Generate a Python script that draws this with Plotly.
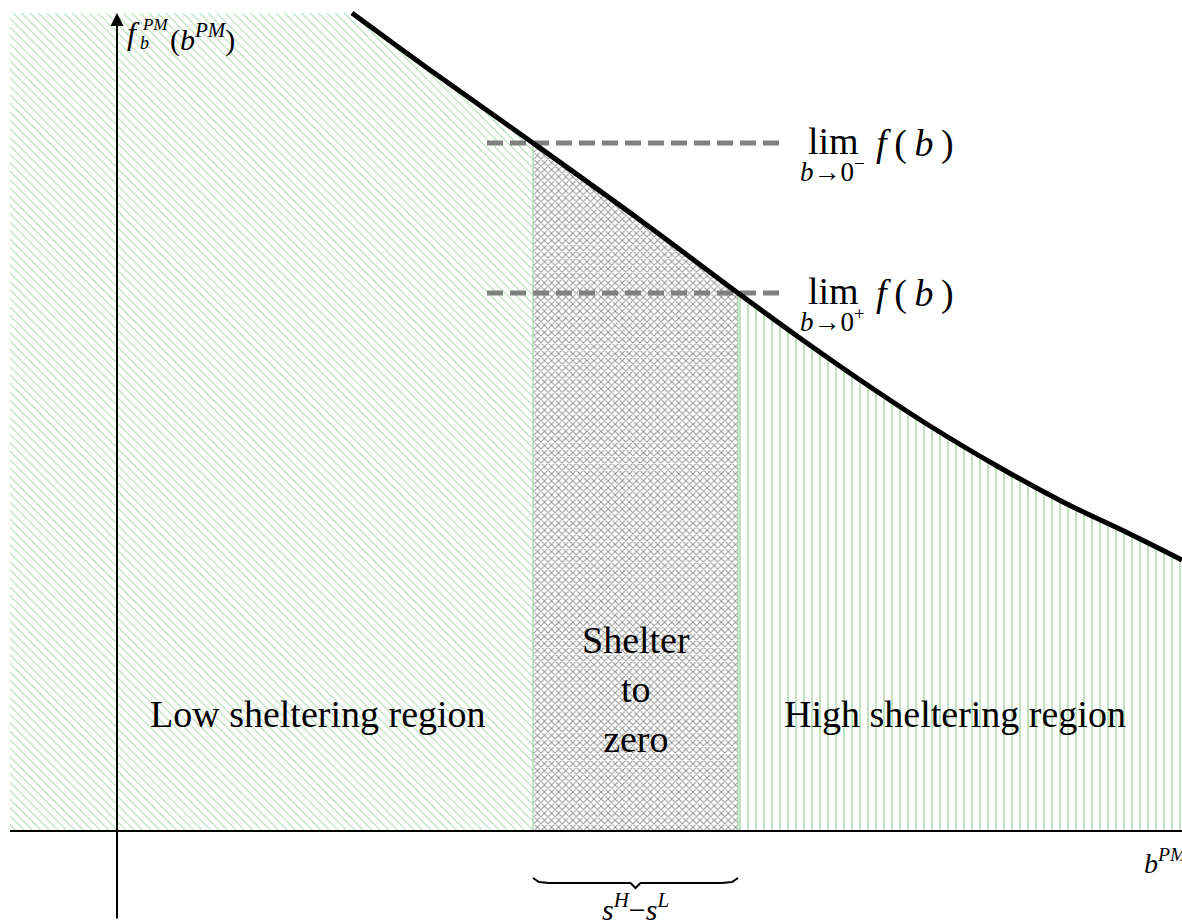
import plotly.graph_objects as go

# ---- data (chart units: origin at the axes crossing) ----
curve_x = [235, 313, 416, 523, 621, 680, 746, 813, 880, 946, 1013, 1065]
curve_y = [818, 761, 688, 611, 538, 495, 449, 405, 365, 329, 297, 271]
s_L = 416          # start of "shelter to zero" band
s_H = 621          # end of band
lim_minus = 688    # lim b->0- f(b)
lim_plus = 538     # lim b->0+ f(b)
region_labels = ["Low sheltering region", "Shelter<br>to<br>zero", "High sheltering region"]

# ---- layout constants ----
X_MIN, X_MAX = -117, 1065
Y_MIN, Y_MAX = -89, 831
LEFT_EDGE = -107
TOP_EDGE = 818
DASH_X0, DASH_X1 = 370, 668
SERIF = "Liberation Serif"
GREEN = "rgb(178,218,178)"

fig = go.Figure()

def seg(lo, hi):
    xs = [x for x in curve_x if lo <= x <= hi]
    ys = [y for x, y in zip(curve_x, curve_y) if lo <= x <= hi]
    return xs, ys

# left region (under curve, clipped at top)
lx, ly = seg(-1e9, s_L)
fig.add_trace(go.Scatter(
    x=[LEFT_EDGE] + lx, y=[TOP_EDGE] + ly, mode="lines", line=dict(width=0),
    fill="tozeroy", fillcolor="white",
    fillpattern=dict(shape="\\", size=6, solidity=0.18, fgcolor=GREEN, bgcolor="white", fillmode="replace"),
    hoverinfo="skip", showlegend=False))
# middle region
mx, my = seg(s_L, s_H)
fig.add_trace(go.Scatter(
    x=mx, y=my, mode="lines", line=dict(width=0),
    fill="tozeroy", fillcolor="white",
    fillpattern=dict(shape="x", size=5, solidity=0.34, fgcolor="#939393", bgcolor="white", fillmode="replace"),
    hoverinfo="skip", showlegend=False))
# right region
rx, ry = seg(s_H, 1e9)
fig.add_trace(go.Scatter(
    x=rx, y=ry, mode="lines", line=dict(width=0),
    fill="tozeroy", fillcolor="white",
    fillpattern=dict(shape="|", size=8, solidity=0.2, fgcolor=GREEN, bgcolor="white", fillmode="replace"),
    hoverinfo="skip", showlegend=False))

# band borders (light green)
for xb in (s_L, s_H):
    yb = curve_y[curve_x.index(xb)]
    fig.add_trace(go.Scatter(x=[xb, xb], y=[0, yb], mode="lines",
                             line=dict(color=GREEN, width=1.5), hoverinfo="skip", showlegend=False))

# dashed limit lines
for yl in (lim_minus, lim_plus):
    fig.add_trace(go.Scatter(x=[DASH_X0, DASH_X1], y=[yl, yl], mode="lines",
                             line=dict(color="#808080", width=5, dash="16px,7px"),
                             hoverinfo="skip", showlegend=False))

# curve
fig.add_trace(go.Scatter(x=curve_x, y=curve_y, mode="lines",
                         line=dict(color="black", width=5, shape="spline", smoothing=1.0),
                         hoverinfo="skip", showlegend=False))

# x axis line
fig.add_trace(go.Scatter(x=[LEFT_EDGE, X_MAX], y=[0, 0], mode="lines",
                         line=dict(color="black", width=2), hoverinfo="skip", showlegend=False))

# brace under the band
mid = (s_L + s_H) / 2
bx = [s_L, s_L + 6, s_L + 16, mid - 5, mid, mid + 5, s_H - 16, s_H - 6, s_H]
by = [-47, -51, -52, -52, -57, -52, -52, -51, -47]
fig.add_trace(go.Scatter(x=bx, y=by, mode="lines", line=dict(color="black", width=2),
                         hoverinfo="skip", showlegend=False))

ann = []
# y axis with arrow
ann.append(dict(x=0, y=TOP_EDGE, ax=0, ay=Y_MIN, xref="x", yref="y", axref="x", ayref="y",
                showarrow=True, arrowhead=2, arrowsize=1.3, arrowwidth=2, arrowcolor="black", text=""))

def txt(x, y, t, size, xanchor="center", yanchor="middle"):
    ann.append(dict(x=x, y=y, xref="x", yref="y", text=t, showarrow=False,
                    xanchor=xanchor, yanchor=yanchor,
                    font=dict(family=SERIF, size=size, color="black")))

# y-axis label f_b^PM(b^PM)
txt(8, 798, "<i>f</i>", 32, "left")
txt(23, 807, "<i>PM</i>", 17, "left")
txt(21, 788, "<i>b</i>", 18, "left")
txt(51, 794, "(<i>b</i><sup><i>PM</i></sup>)", 30, "left")

# x-axis label
txt(1025, -30, "<i>b</i><sup><i>PM</i></sup>", 28, "left")

# limits
for yl in (lim_minus, lim_plus):
    txt(716, yl + 2, "lim", 38)
    txt(757, yl, "<i>f</i>\u2009(\u2009<i>b</i>\u2009)", 38, "left")
    sup = "−" if yl == lim_minus else "+"
    txt(715, yl - 27, "<i>b</i>→0<sup>" + sup + "</sup>", 27)

# region labels
txt(201, 117, region_labels[0], 38)
txt(mid, 142, region_labels[1], 38)
txt(838, 117, region_labels[2], 38)

# s^H - s^L
txt(mid, -76, "<i>s</i><sup><i>H</i></sup>−<i>s</i><sup><i>L</i></sup>", 30)

fig.update_layout(
    width=1182, height=920, margin=dict(l=0, r=0, t=0, b=0),
    paper_bgcolor="white", plot_bgcolor="white",
    xaxis=dict(range=[X_MIN, X_MAX], visible=False, fixedrange=True),
    yaxis=dict(range=[Y_MIN, Y_MAX], visible=False, fixedrange=True),
    annotations=ann, showlegend=False)

fig.write_html("out.html", config={"displayModeBar": False},
               post_script="document.body.style.margin='0';document.body.style.overflow='hidden';")
